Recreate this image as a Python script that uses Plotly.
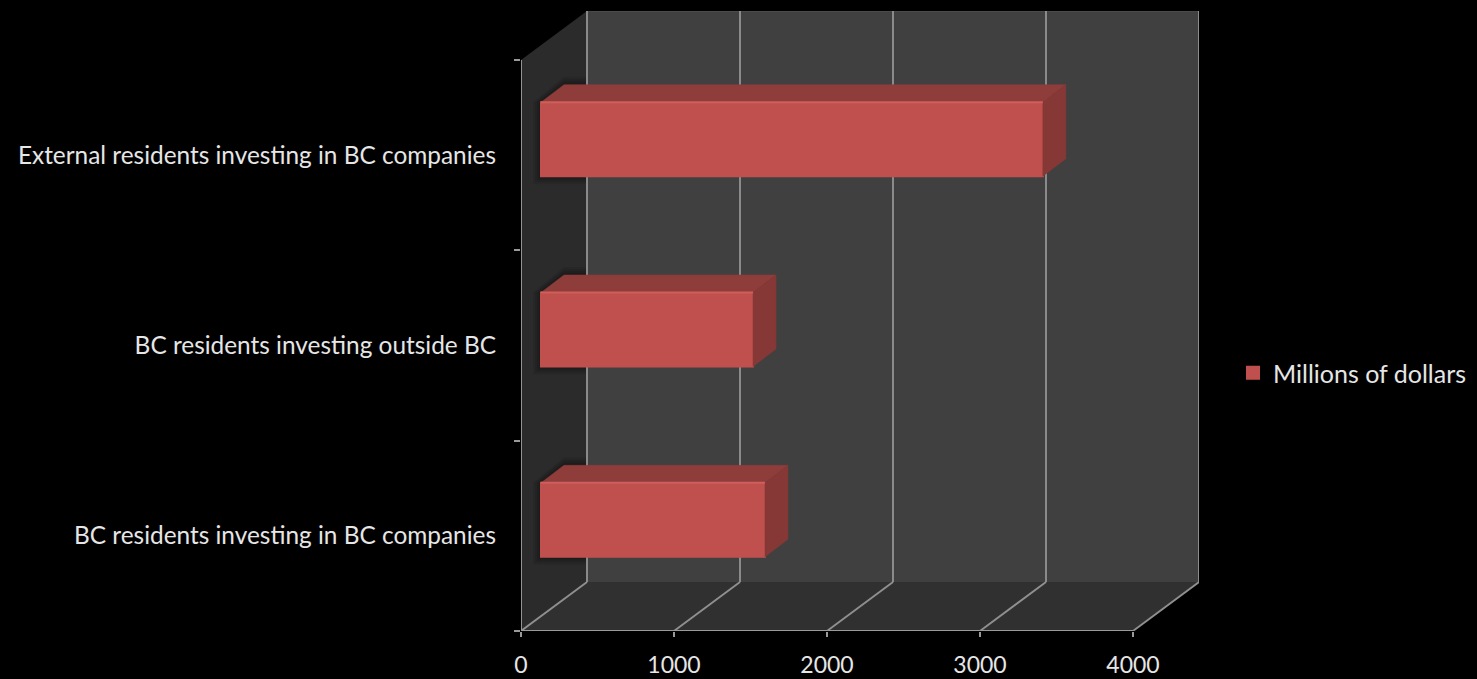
import plotly.graph_objects as go

categories = ["BC residents investing in BC companies",
              "BC residents investing outside BC",
              "External residents investing in BC companies"]
values = [1464, 1386, 3280]
series_name = "Millions of dollars"
x_ticks = [0, 1000, 2000, 3000, 4000]

W, H = 1477, 679
L, R, T, B = 521, 1199, 11, 631
PX_X = 153.0 / 1000
PX_Y = 190.33
x_max = (R - L) / PX_X
y_min = -0.5
y_top = 2.5                    # top of the front plane
y_max = y_min + (B - T) / PX_Y
wall_dx = 66 / PX_X            # depth of the chart box
wall_dy = 49 / PX_Y
bar_dx = 23 / PX_X             # depth of a bar
bar_dy = 17.5 / PX_Y
bar_base = 20 / PX_X           # front-left corner of each bar
bar_up = 16 / PX_Y
bar_h = 74 / PX_Y

FONT = "Lato"
TXT = "#e6e6e6"
GRID = "#8f8f8f"


def poly(pts, **kw):
    path = "M " + " L ".join(f"{x},{y}" for x, y in pts) + " Z"
    return dict(type="path", path=path, xref="x", yref="y", layer="below", **kw)


def seg(x0, y0, x1, y1, color=GRID, width=1.9):
    return dict(type="line", x0=x0, y0=y0, x1=x1, y1=y1, xref="x", yref="y",
                layer="below", line=dict(color=color, width=width))


shapes = [
    # left wall, back wall, floor
    poly([(0, y_top), (wall_dx, y_top + wall_dy), (wall_dx, y_min + wall_dy), (0, y_min)],
         fillcolor="#2b2b2b", line=dict(width=0)),
    poly([(wall_dx, y_top + wall_dy), (x_max, y_top + wall_dy), (x_max, y_min + wall_dy), (wall_dx, y_min + wall_dy)],
         fillcolor="#404040", line=dict(width=0)),
    poly([(0, y_min), (x_ticks[-1], y_min), (x_max, y_min + wall_dy), (wall_dx, y_min + wall_dy)],
         fillcolor="#303030", line=dict(width=0)),
    seg(wall_dx, y_top + wall_dy, x_max, y_top + wall_dy, "#555555", 1),
]
# soft shadows on the left wall, next to the bars
for i in range(len(categories)):
    yc = i + bar_up
    top, bot = yc + bar_h / 2, yc - bar_h / 2
    for g in (8, 6, 4, 2):
        gx, gy = g / PX_X, g / PX_Y
        shapes.append(poly([(bar_base - gx, bot - gy), (wall_dx, bot - gy), (wall_dx, top + bar_dy + gy),
                            (bar_base + bar_dx, top + bar_dy + gy), (bar_base - gx, top)],
                           fillcolor="#000000", opacity=0.09, line=dict(width=0)))
for t in x_ticks:
    shapes.append(seg(t + wall_dx, y_top + wall_dy, t + wall_dx, y_min + wall_dy))
    shapes.append(seg(t, y_min, t + wall_dx, y_min + wall_dy))
# axis lines of the front plane
shapes.append(seg(0, y_min, 0, y_top, "#9a9a9a", 1.9))
shapes.append(seg(0, y_min, x_ticks[-1], y_min, "#9a9a9a", 1.9))

fig = go.Figure()

# front faces
fig.add_trace(go.Bar(
    orientation="h", name=series_name, showlegend=True,
    y=[i + bar_up for i in range(len(categories))],
    x=values, base=[bar_base] * len(values), width=bar_h,
    marker=dict(color="#c0504d", line=dict(color="#c0504d", width=2)),
    hoverinfo="skip",
))

# top and side faces, highlight, all following the values
for i, v in enumerate(values):
    yc = i + bar_up
    top, bot = yc + bar_h / 2, yc - bar_h / 2
    x0, x1 = bar_base, bar_base + v
    fig.add_trace(go.Scatter(
        x=[x0, x1, x1 + bar_dx, x0 + bar_dx, x0], y=[top, top, top + bar_dy, top + bar_dy, top],
        mode="lines", fill="toself", fillcolor="#8f3d3b", line=dict(color="#8f3d3b", width=0.5),
        showlegend=False, hoverinfo="skip"))
    fig.add_trace(go.Scatter(
        x=[x1, x1 + bar_dx, x1 + bar_dx, x1, x1], y=[top, top + bar_dy, bot + bar_dy, bot, top],
        mode="lines", fill="toself", fillcolor="#863836", line=dict(color="#863836", width=0.5),
        showlegend=False, hoverinfo="skip"))
    fig.add_trace(go.Scatter(
        x=[x0, x1], y=[top, top], mode="lines", line=dict(color="#d05f5b", width=2),
        showlegend=False, hoverinfo="skip"))

fig.update_layout(
    width=W, height=H,
    margin=dict(l=L, r=W - R, t=T, b=H - B, pad=0, autoexpand=False),
    paper_bgcolor="#000000", plot_bgcolor="rgba(0,0,0,0)",
    shapes=shapes, showlegend=True,
    font=dict(family=FONT, color=TXT, size=22),
    legend=dict(x=(1239 - L) / (R - L), y=(H - 373 - (H - B)) / (B - T), xanchor="left", yanchor="middle",
                indentation=-6,
                bgcolor="rgba(0,0,0,0)", font=dict(family=FONT, size=25, color=TXT)),
    xaxis=dict(range=[0, x_max], tickvals=x_ticks, ticktext=[str(t) for t in x_ticks],
               showgrid=False, zeroline=False, showline=False,
               ticks="outside", ticklen=5, tickwidth=1.9, tickcolor="#9a9a9a",
               ticklabelstandoff=8,
               tickfont=dict(family=FONT, size=23, color=TXT), automargin=False),
    yaxis=dict(range=[y_min, y_max], tickvals=list(range(len(categories))), ticktext=categories,
               showgrid=False, zeroline=False, showline=False,
               ticks="", ticklabelstandoff=24,
               minor=dict(tickvals=[-0.5, 0.5, 1.5, 2.5], ticks="outside", ticklen=6, tickwidth=1.9, tickcolor="#9a9a9a"),
               tickfont=dict(family=FONT, size=24.4, color=TXT), automargin=False),
)

fig.write_html("out.html", config={"displayModeBar": False},
               post_script="document.body.style.margin='0';document.body.style.background='#000';document.body.style.overflow='hidden';")
